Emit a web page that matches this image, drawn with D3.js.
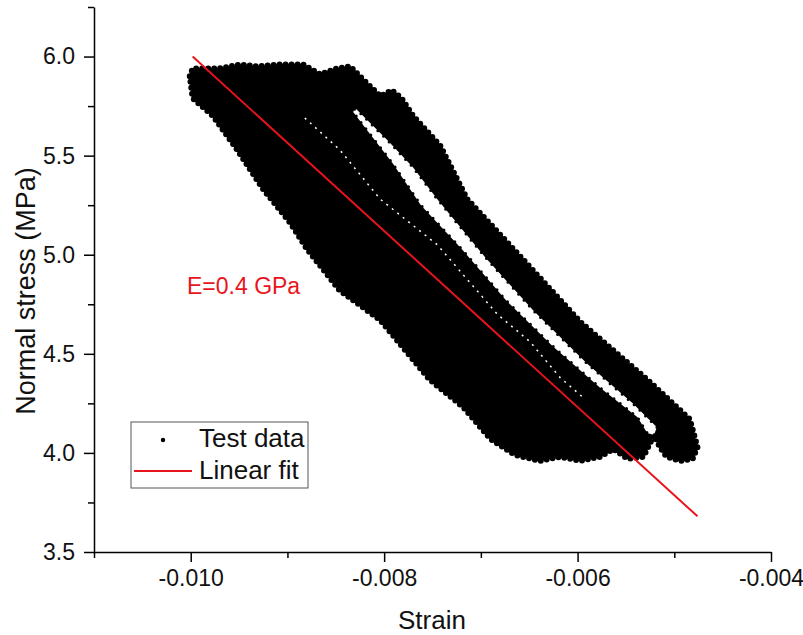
<!DOCTYPE html>
<html>
<head>
<meta charset="utf-8">
<script src="https://cdn.jsdelivr.net/npm/d3@7"></script>
<style>
  body { margin: 0; background: #fff; }
  text { font-family: "Liberation Sans", Arial, sans-serif; }
</style>
</head>
<body>
<div id="chart"></div>
<script>
// Test data cloud as [strain, stress (MPa)] outlines
const cloudOutline = [
  [-0.01001, 5.90], [-0.00998, 5.94], [-0.00970, 5.94], [-0.00949, 5.96],
  [-0.00931, 5.95], [-0.00908, 5.96], [-0.00884, 5.96], [-0.00866, 5.91],
  [-0.00849, 5.94], [-0.00835, 5.95], [-0.00823, 5.89], [-0.00804, 5.80],
  [-0.00792, 5.83], [-0.00782, 5.79], [-0.00770, 5.70], [-0.00742, 5.55],
  [-0.00714, 5.28], [-0.00659, 4.99], [-0.00597, 4.66], [-0.00528, 4.37],
  [-0.00484, 4.17], [-0.00476, 4.03], [-0.00481, 3.97], [-0.00494, 3.96],
  [-0.00508, 3.98], [-0.00515, 4.03], [-0.00521, 4.09], [-0.00527, 4.03],
  [-0.00532, 3.98], [-0.00548, 3.97], [-0.00563, 4.02], [-0.00577, 3.98],
  [-0.00597, 3.96], [-0.00618, 3.98], [-0.00639, 3.96], [-0.00665, 3.99],
  [-0.00690, 4.07], [-0.00718, 4.23], [-0.00753, 4.37], [-0.00770, 4.47],
  [-0.00804, 4.67], [-0.00846, 4.82], [-0.00880, 5.03], [-0.00897, 5.16],
  [-0.00925, 5.33], [-0.00952, 5.53], [-0.00977, 5.70], [-0.00998, 5.79]
];

// empty gap between the two outer loading branches
const bandGap = [
  [-0.00830, 5.74], [-0.00797, 5.58], [-0.00770, 5.44], [-0.00745, 5.28],
  [-0.00696, 4.99], [-0.00646, 4.72], [-0.00590, 4.45], [-0.00543, 4.25],
  [-0.00518, 4.13], [-0.00521, 4.09], [-0.00528, 4.10], [-0.00538, 4.18],
  [-0.00577, 4.33], [-0.00626, 4.54], [-0.00674, 4.77], [-0.00720, 5.03],
  [-0.00762, 5.25], [-0.00791, 5.46], [-0.00818, 5.63], [-0.00832, 5.72]
];

// thin speckled seam between middle branch and main body
const bandSeam = [
  [-0.00882, 5.69], [-0.00846, 5.53], [-0.00804, 5.28], [-0.00745, 5.05],
  [-0.00683, 4.70], [-0.00649, 4.56], [-0.00618, 4.38], [-0.00592, 4.27]
];

const fitLine = [[-0.00998, 6.00], [-0.00476, 3.68]];
const fitLabel = "E=0.4 GPa";

const xTicks = [-0.010, -0.008, -0.006, -0.004];
const xMinor = [-0.011, -0.009, -0.007, -0.005];
const yTicks = [3.5, 4.0, 4.5, 5.0, 5.5, 6.0];
const yMinor = [3.75, 4.25, 4.75, 5.25, 5.75, 6.25];
const legendItems = ["Test data", "Linear fit"];

const width = 803,
  height = 635;
const margin = { top: 7, right: 32, bottom: 83, left: 94 };

const x = d3.scaleLinear().domain([-0.011, -0.004]).range([margin.left, width - margin.right]);
const y = d3.scaleLinear().domain([3.5, 6.25]).range([height - margin.bottom, margin.top]);

const svg = d3
  .select("#chart")
  .append("svg")
  .attr("width", width)
  .attr("height", height);

const area = d3.line().x((d) => x(d[0])).y((d) => y(d[1])).curve(d3.curveLinearClosed);
const line = d3.line().x((d) => x(d[0])).y((d) => y(d[1]));

// the dense point cloud
svg.append("path").attr("d", area(cloudOutline)).attr("fill", "#000");
svg
  .append("path")
  .attr("d", area(cloudOutline))
  .attr("fill", "none")
  .attr("stroke", "#000")
  .attr("stroke-width", 6)
  .attr("stroke-linecap", "round")
  .attr("stroke-dasharray", "0 6");

svg.append("path").attr("d", area(bandGap)).attr("fill", "#fff");
svg
  .append("path")
  .attr("d", area(bandGap))
  .attr("fill", "none")
  .attr("stroke", "#000")
  .attr("stroke-width", 3)
  .attr("stroke-linecap", "round")
  .attr("stroke-dasharray", "0 8");

svg
  .append("path")
  .attr("d", line(bandSeam))
  .attr("fill", "none")
  .attr("stroke", "#fff")
  .attr("stroke-width", 1.5)
  .attr("stroke-dasharray", "2 5");

// linear fit
svg
  .append("path")
  .attr("d", line(fitLine))
  .attr("fill", "none")
  .attr("stroke", "#e8141b")
  .attr("stroke-width", 2);

svg
  .append("text")
  .attr("x", 187)
  .attr("y", 294)
  .attr("fill", "#e8141b")
  .attr("font-size", "23px")
  .text(fitLabel);

// axes
const xAxis = svg.append("g").attr("transform", `translate(0,${y(3.5)})`);
xAxis.call(
  d3.axisBottom(x).tickValues(xTicks).tickFormat((d) => d.toFixed(3))
    .tickSize(10).tickSizeOuter(0).tickPadding(8)
);
xAxis.append("g").call(
  d3.axisBottom(x).tickValues(xMinor).tickFormat("").tickSize(6).tickSizeOuter(0)
).select(".domain").remove();

const yAxis = svg.append("g").attr("transform", `translate(${x(-0.011)},0)`);
yAxis.call(
  d3.axisLeft(y).tickValues(yTicks).tickFormat((d) => d.toFixed(1))
    .tickSize(10).tickSizeOuter(0).tickPadding(9)
);
yAxis.append("g").call(
  d3.axisLeft(y).tickValues(yMinor).tickFormat("").tickSize(6).tickSizeOuter(0)
).select(".domain").remove();

svg.selectAll(".domain, .tick line").attr("stroke", "#000").attr("stroke-width", 1.5);
svg.selectAll(".tick text")
  .attr("font-size", "23px")
  .attr("font-family", "'Liberation Sans', Arial, sans-serif")
  .attr("fill", "#111");

svg
  .append("text")
  .attr("x", 432)
  .attr("y", 629)
  .attr("text-anchor", "middle")
  .attr("font-size", "26px")
  .attr("fill", "#111")
  .text("Strain");

svg
  .append("text")
  .attr("transform", "translate(35,291) rotate(-90)")
  .attr("text-anchor", "middle")
  .attr("font-size", "27px")
  .attr("fill", "#111")
  .text("Normal stress (MPa)");

// legend
const legend = svg.append("g").attr("transform", "translate(131,422)");
legend
  .append("rect")
  .attr("width", 177)
  .attr("height", 66)
  .attr("fill", "#fff")
  .attr("stroke", "#555")
  .attr("stroke-width", 1);
legend.append("circle").attr("cx", 32).attr("cy", 18).attr("r", 2.2).attr("fill", "#000");
legend
  .append("line")
  .attr("x1", 3).attr("x2", 61)
  .attr("y1", 49).attr("y2", 49)
  .attr("stroke", "#e8141b")
  .attr("stroke-width", 2);
legend
  .selectAll("text")
  .data(legendItems)
  .enter()
  .append("text")
  .attr("x", 68)
  .attr("y", (d, i) => 25 + i * 32)
  .attr("font-size", "26px")
  .attr("fill", "#111")
  .text((d) => d);
</script>
</body>
</html>
